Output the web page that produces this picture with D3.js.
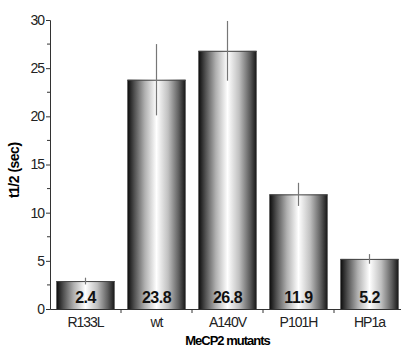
<!DOCTYPE html>
<html>
<head>
<meta charset="utf-8">
<script src="https://cdn.jsdelivr.net/npm/d3@7"></script>
<style>
  body { margin: 0; background: #fff; }
  text { font-family: "Liberation Sans", Arial, sans-serif; }
</style>
</head>
<body>
<div id="chart"></div>
<script>
// data
var mutants = ["R133L", "wt", "A140V", "P101H", "HP1a"];
var halfTimes = [2.9, 23.8, 26.8, 11.9, 5.2];
var errors = [0.35, 3.7, 3.1, 1.2, 0.5];
var valueLabels = ["2.4", "23.8", "26.8", "11.9", "5.2"];
var yTicks = [0, 5, 10, 15, 20, 25, 30];
var yMinorTicks = [2.5, 7.5, 12.5, 17.5, 22.5, 27.5];

var width = 401, height = 350;
var margin = {top: 20, left: 50, bottom: 41};
var plotH = height - margin.top - margin.bottom;

var svg = d3.select("#chart").append("svg")
    .attr("width", width)
    .attr("height", height);

// horizontal cylinder-like gradient
var grad = svg.append("defs").append("linearGradient")
    .attr("id", "barGrad")
    .attr("x1", "0%").attr("x2", "100%")
    .attr("y1", "0%").attr("y2", "0%");
[[0, "#0a0a0a"], [0.12, "#505050"], [0.3, "#b0b0b0"], [0.5, "#ffffff"], [0.7, "#c0c0c0"], [0.88, "#606060"], [1, "#151515"]]
  .forEach(function(s) {
    grad.append("stop").attr("offset", s[0]).attr("stop-color", s[1]);
  });

var x = d3.scaleBand()
    .domain(mutants)
    .range([margin.left, margin.left + 71 * mutants.length])
    .paddingInner(0.18)
    .paddingOuter(0.09);

var y = d3.scaleLinear()
    .domain([0, 30])
    .range([margin.top + plotH, margin.top]);

var g = svg.append("g");

// bars
g.selectAll(".bar")
    .data(mutants)
    .enter().append("rect")
    .attr("class", "bar")
    .attr("x", function(d) { return x(d); })
    .attr("width", x.bandwidth())
    .attr("y", function(d, i) { return y(halfTimes[i]); })
    .attr("height", function(d, i) { return y(0) - y(halfTimes[i]); })
    .attr("fill", "url(#barGrad)");

// top edge of bars
g.selectAll(".topline")
    .data(mutants)
    .enter().append("line")
    .attr("x1", function(d) { return x(d); })
    .attr("x2", function(d) { return x(d) + x.bandwidth(); })
    .attr("y1", function(d, i) { return y(halfTimes[i]) + 0.5; })
    .attr("y2", function(d, i) { return y(halfTimes[i]) + 0.5; })
    .attr("stroke", "#444")
    .attr("stroke-width", 1);

// error bars
g.selectAll(".err")
    .data(mutants)
    .enter().append("line")
    .attr("class", "err")
    .attr("x1", function(d) { return x(d) + x.bandwidth() / 2; })
    .attr("x2", function(d) { return x(d) + x.bandwidth() / 2; })
    .attr("y1", function(d, i) { return y(halfTimes[i] + errors[i]); })
    .attr("y2", function(d, i) { return y(halfTimes[i] - errors[i]); })
    .attr("stroke", "#777")
    .attr("stroke-width", 1.2);

// value labels inside bars
g.selectAll(".val")
    .data(mutants)
    .enter().append("text")
    .attr("x", function(d) { return x(d) + x.bandwidth() / 2; })
    .attr("y", y(0) - 6)
    .attr("text-anchor", "middle")
    .attr("font-size", 16)
    .attr("font-weight", "bold")
    .attr("letter-spacing", -0.5)
    .attr("fill", "#111")
    .text(function(d, i) { return valueLabels[i]; });

// y axis
var yAxis = svg.append("g")
    .attr("transform", "translate(" + margin.left + ",0)")
    .call(d3.axisLeft(y).tickValues(yTicks).tickSize(4).tickPadding(2));
yAxis.select(".domain").attr("stroke", "#333");
yAxis.selectAll(".tick line").attr("stroke", "#333");
yAxis.selectAll("text")
    .attr("font-size", 14)
    .attr("letter-spacing", -1)
    .attr("fill", "#222");

svg.append("g")
    .attr("transform", "translate(" + margin.left + ",0)")
    .selectAll("line")
    .data(yMinorTicks)
    .enter().append("line")
    .attr("x1", -3).attr("x2", 0)
    .attr("y1", function(d) { return y(d); })
    .attr("y2", function(d) { return y(d); })
    .attr("stroke", "#333");

// x axis
var xAxis = svg.append("g")
    .attr("transform", "translate(0," + y(0) + ")")
    .call(d3.axisBottom(x).tickSize(0).tickPadding(8));
xAxis.select(".domain").attr("stroke", "#333");
xAxis.selectAll("text")
    .attr("font-size", 14)
    .attr("letter-spacing", -1)
    .attr("fill", "#222");

// x ticks between categories
xAxis.selectAll(".sep")
    .data(mutants.slice(1))
    .enter().append("line")
    .attr("x1", function(d) { return x(d) - x.step() * x.paddingInner() / 2; })
    .attr("x2", function(d) { return x(d) - x.step() * x.paddingInner() / 2; })
    .attr("y1", 0).attr("y2", 4)
    .attr("stroke", "#333");

// axis titles
svg.append("text")
    .attr("transform", "translate(19," + (margin.top + plotH * 0.52) + ") rotate(-90)")
    .attr("text-anchor", "middle")
    .attr("font-size", 14)
    .attr("font-weight", "bold")
    .attr("letter-spacing", -0.5)
    .text("t1/2 (sec)");

svg.append("text")
    .attr("x", margin.left + 71 * mutants.length / 2)
    .attr("y", 345)
    .attr("text-anchor", "middle")
    .attr("font-size", 13)
    .attr("font-weight", "bold")
    .attr("letter-spacing", -1)
    .text("MeCP2 mutants");
</script>
</body>
</html>
